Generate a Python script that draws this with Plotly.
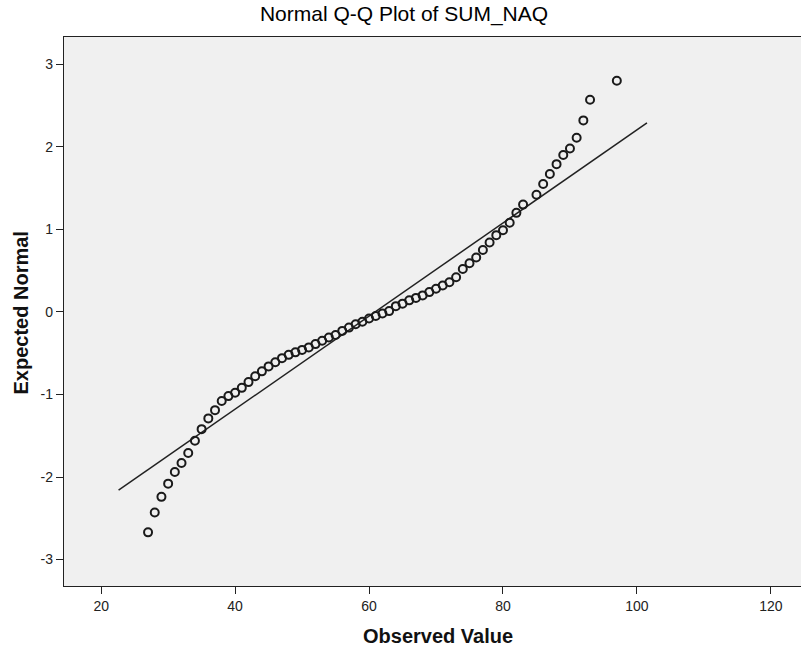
import plotly.graph_objects as go

# Observed values (x) and expected normal quantiles (y)
observed = list(range(27, 84)) + [85, 86, 87, 88, 89, 90, 91, 92, 93, 97]
expected = [
    -2.67, -2.43, -2.24, -2.08, -1.94, -1.83, -1.71, -1.56, -1.42, -1.29,
    -1.19, -1.08, -1.02, -0.98, -0.92, -0.85, -0.78, -0.72, -0.66, -0.61,
    -0.56, -0.52, -0.49, -0.46, -0.43, -0.39, -0.35, -0.31, -0.28, -0.23,
    -0.19, -0.15, -0.12, -0.08, -0.05, -0.02, 0.01, 0.07, 0.10, 0.14,
    0.17, 0.20, 0.24, 0.28, 0.32, 0.36, 0.42, 0.52, 0.59, 0.66,
    0.75, 0.84, 0.93, 0.99, 1.08, 1.20, 1.30,
    1.42, 1.55, 1.67, 1.79, 1.90, 1.98, 2.11, 2.32, 2.57, 2.80,
]

# Reference line endpoints
line_x = [22.6, 101.5]
line_y = [-2.16, 2.29]

x_ticks = [20, 40, 60, 80, 100, 120]
y_ticks = [-3, -2, -1, 0, 1, 2, 3]

title_text = "Normal Q-Q Plot of SUM_NAQ"
x_title = "Observed Value"
y_title = "Expected Normal"

W, H = 801, 650
L, R, T, B = 64, 0, 37, 64
pw = W - L - R
ph = H - T - B

ink = "#222222"
font_family = "Liberation Sans, Arial, sans-serif"

fig = go.Figure()
fig.add_trace(go.Scatter(
    x=line_x, y=line_y, mode="lines",
    line=dict(color=ink, width=1.5),
    hoverinfo="skip", showlegend=False,
))
fig.add_trace(go.Scatter(
    x=observed, y=expected, mode="markers",
    marker=dict(symbol="circle-open", size=8, color="#1a1a1a",
                line=dict(color="#1a1a1a", width=2)),
    showlegend=False,
))

fig.update_layout(
    width=W, height=H,
    margin=dict(l=L, r=R, t=T, b=B, pad=0),
    paper_bgcolor="white",
    plot_bgcolor="#f0f0f0",
    font=dict(family=font_family, color=ink, size=14),
    title=dict(
        text=title_text,
        x=404 / W, xref="container", xanchor="center",
        y=1 - 14 / H, yref="container", yanchor="middle",
        font=dict(family=font_family, size=21, color="#000000"),
    ),
    showlegend=False,
)

fig.update_xaxes(
    range=[14.45, 124.5],
    tickmode="array", tickvals=x_ticks, ticktext=[str(v) for v in x_ticks],
    showgrid=False, zeroline=False,
    showline=True, linecolor=ink, linewidth=1.4, mirror=True,
    ticks="outside", ticklen=7, tickwidth=1.3, tickcolor=ink,
    tickfont=dict(size=14, color=ink),
)
fig.update_yaxes(
    range=[-3.32, 3.33],
    tickmode="array", tickvals=y_ticks, ticktext=[str(v) for v in y_ticks],
    showgrid=False, zeroline=False,
    showline=True, linecolor=ink, linewidth=1.4, mirror=False,
    ticks="outside", ticklen=7, tickwidth=1.3, tickcolor=ink,
    tickfont=dict(size=14, color=ink),
)

# Axis titles as annotations for precise placement
fig.add_annotation(
    text=f"<b>{x_title}</b>", xref="paper", yref="paper",
    x=(437.8 - L) / pw, y=(H - B - 636) / ph,
    xanchor="center", yanchor="middle", showarrow=False,
    font=dict(family=font_family, size=20, color="#111111"),
)
fig.add_annotation(
    text=f"<b>{y_title}</b>", xref="paper", yref="paper",
    x=(20.5 - L) / pw, y=(H - B - 313) / ph,
    xanchor="center", yanchor="middle", showarrow=False, textangle=-90,
    font=dict(family=font_family, size=20, color="#111111"),
)

fig.write_html("out.html")
